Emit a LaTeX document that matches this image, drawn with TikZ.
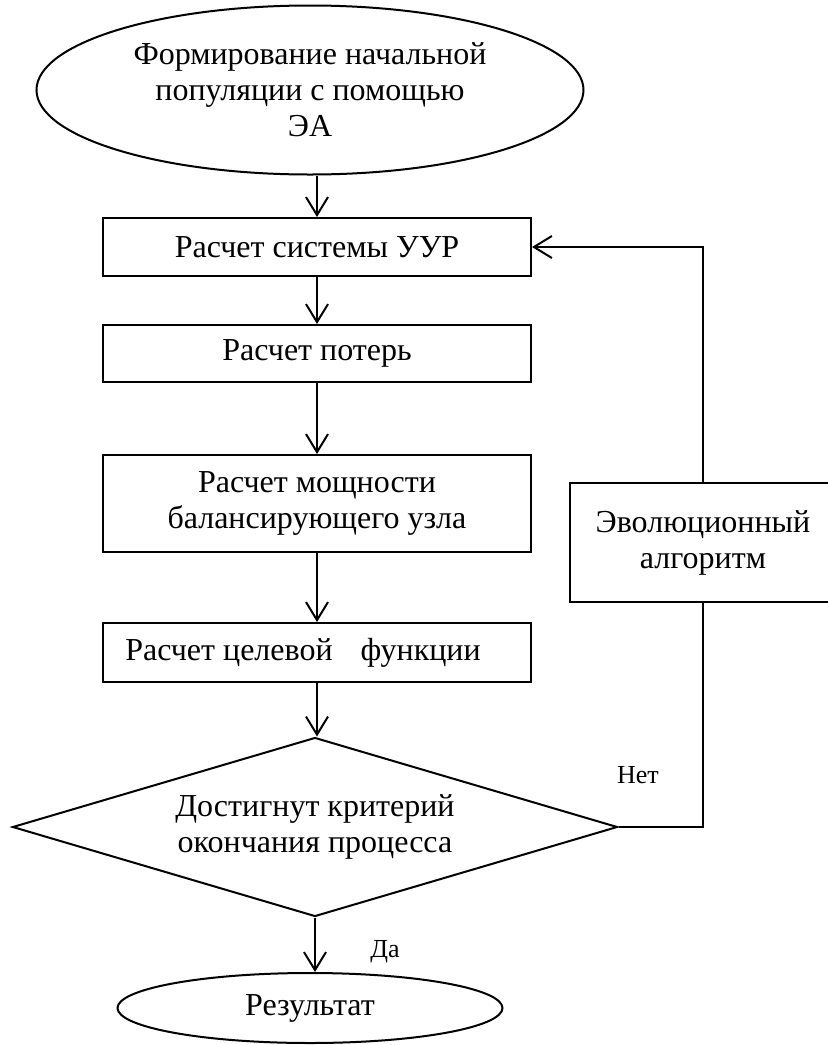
\documentclass[tikz,border=0pt]{standalone}
\usepackage{fontspec}
\setmainfont{Liberation Serif}
\usetikzlibrary{shapes.geometric,arrows.meta}
\tikzstyle{blockbox} = [draw=black, line width=1pt, rectangle, minimum width=214pt,
    inner sep=0pt, align=center, font=\fontsize{16}{18}\selectfont]
\tikzstyle{termbox} = [draw=black, line width=1pt, ellipse, inner sep=0pt,
    align=center, font=\fontsize{16}{18}\selectfont]
\tikzstyle{choicebox} = [draw=black, line width=1pt, diamond, aspect=3.4, inner sep=0pt,
    align=center, font=\fontsize{16}{18}\selectfont]
\tikzstyle{flow} = [line width=1pt, -{Straight Barb[length=9pt, width=11pt]}]
\tikzstyle{note} = [font=\fontsize{13}{15}\selectfont]

\begin{document}
\begin{tikzpicture}[x=0.5pt, y=-0.5pt]
                \useasboundingbox (0,0) rectangle (827,1045);
                \node[termbox, minimum width=273.5pt, minimum height=84.5pt] (start) at (310,90)
                    {Формирование начальной\\популяции с помощью\\ЭА};
                \node[blockbox, minimum height=29pt] (sys) at (317,247) {Расчет системы УУР};
                \node[blockbox, minimum height=28.5pt] (loss) at (317,353.5) {Расчет потерь};
                \node[blockbox, minimum height=48.5pt] (power) at (317,503.5)
                    {Расчет мощности\\балансирующего узла};
                \node[blockbox, minimum height=29.5pt] (goal) at (317,652.5)
                    {Расчет целевой\hspace{14pt}функции\hspace{14pt}};
                \node[choicebox, minimum width=302.5pt, minimum height=89.5pt] (check) at (315,827)
                    {Достигнут критерий\\окончания процесса};
                \node[termbox, minimum width=192.5pt, minimum height=35pt] (result) at (310,1008) {Результат};
                \node[blockbox, minimum width=133pt, minimum height=59.5pt] (evo) at (703,542.5)
                    {Эволюционный\\алгоритм};
                \node[note] (no) at (638,775) {Нет};
                \node[note] (yes) at (385,952) {Да};

                \draw[flow] (sys.north |- start.south) -- (sys.north);
                \draw[flow] (sys) -- (loss);
                \draw[flow] (loss) -- (power);
                \draw[flow] (power) -- (goal);
                \draw[flow] (goal.south) -- (goal.south |- check.north);
                \draw[flow] (check.south) -- (check.south |- result.north);
                \draw[line width=1pt] (check.east) -| (evo.south);
                \draw[flow] (evo.north) |- (sys.east);
            \end{tikzpicture}
\end{document}
